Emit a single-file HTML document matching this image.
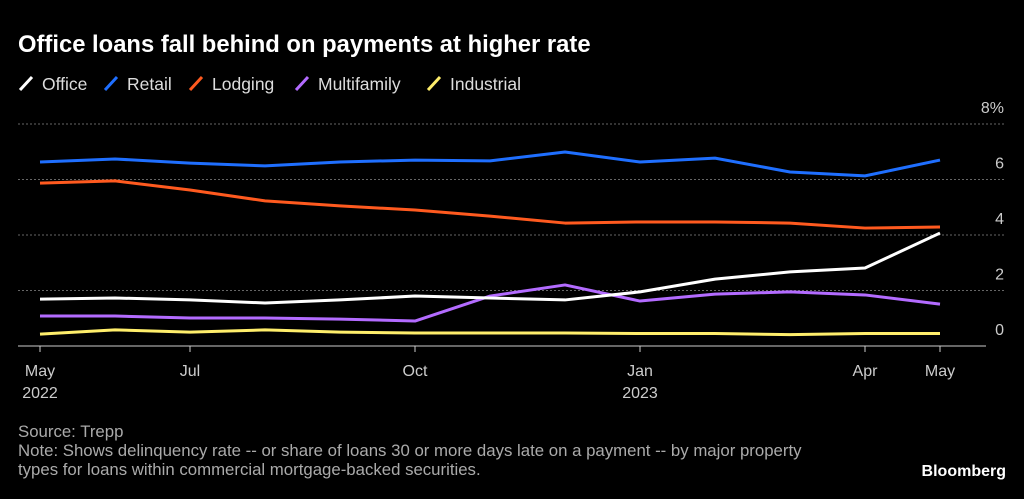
<!DOCTYPE html>
<html><head><meta charset="utf-8"><style>
body{margin:0;background:#000;width:1024px;height:494px;overflow:hidden;font-family:"Liberation Sans",sans-serif;color:#fff}
</style></head><body>
<svg width="1024" height="494" id="svg">
<text x="18" y="52" font-size="23.8" font-weight="bold" fill="#fff">Office loans fall behind on payments at higher rate</text>
<g id="legend"></g>
<g id="grid"></g>
<g id="series"></g>
<g id="xaxis"></g>
<text x="18" y="437" font-size="16.8" fill="#aaa">Source: Trepp</text>
<text x="18" y="456" font-size="16.8" fill="#aaa">Note: Shows delinquency rate -- or share of loans 30 or more days late on a payment -- by major property</text>
<text x="18" y="475" font-size="16.8" fill="#aaa">types for loans within commercial mortgage-backed securities.</text>
<text x="1006" y="476" font-size="16" font-weight="bold" fill="#fff" text-anchor="end">Bloomberg</text>
</svg>
<script>
const seriesNames=["Office","Retail","Lodging","Multifamily","Industrial"];
const seriesColors=["#ffffff","#1f6fff","#ff5a1f","#b36bff","#ffee6b"];
const office=[1.69,1.73,1.66,1.55,1.66,1.80,1.73,1.66,1.95,2.41,2.67,2.81,4.07];
const retail=[6.63,6.74,6.59,6.49,6.63,6.70,6.67,6.99,6.63,6.77,6.27,6.13,6.70];
const lodging=[5.87,5.95,5.62,5.23,5.05,4.90,4.68,4.43,4.47,4.47,4.43,4.25,4.29];
const multifamily=[1.08,1.08,1.01,1.01,0.97,0.90,1.80,2.20,1.62,1.87,1.95,1.84,1.51];
const industrial=[0.43,0.58,0.50,0.58,0.50,0.47,0.47,0.47,0.45,0.45,0.41,0.45,0.45];
const yTicks=[0,2,4,6,8];
const yTickLabels=["0","2","4","6","8%"];
const xTickIdx=[0,2,5,8,11,12];
const xTickLabels=[["May","2022"],["Jul"],["Oct"],["Jan","2023"],["Apr"],["May"]];
const NS="http://www.w3.org/2000/svg";
const x=i=>40+i*75;
const y=v=>346-v*27.75;
function mk(tag,attrs,parent){const e=document.createElementNS(NS,tag);for(const k in attrs)e.setAttribute(k,attrs[k]);parent.appendChild(e);return e;}
const grid=document.getElementById('grid');
yTicks.forEach((t,i)=>{
 if(t>0){const l=mk('line',{x1:18,x2:1006,y1:y(t),y2:y(t),stroke:'#666','stroke-dasharray':'2,2'},grid);
 
 }
 const tx=mk('text',{x:1004,y:y(t)-11,'font-size':16,fill:'#ccc','text-anchor':'end'},grid);
 tx.textContent=yTickLabels[i];
 
 
});
const xa=document.getElementById('xaxis');
const al=mk('line',{x1:18,x2:986,y1:346,y2:346,stroke:'#ccc'},xa);


xTickIdx.forEach((idx,i)=>{
 const tk=mk('line',{x1:x(idx),x2:x(idx),y1:346,y2:352,stroke:'#ccc'},xa);
 
 
 xTickLabels[i].forEach((s,j)=>{
  const t=mk('text',{x:x(idx),y:376+j*22,'font-size':16,fill:'#ccc','text-anchor':'middle'},xa);
  t.textContent=s;
  
  
 });
});
const data=[office,retail,lodging,multifamily,industrial];
const sg=document.getElementById('series');
[4,3,2,1,0].forEach(k=>{
 const p=mk('polyline',{points:data[k].map((v,i)=>x(i)+','+y(v)).join(' '),fill:'none',stroke:seriesColors[k],'stroke-width':3,'stroke-linejoin':'round'},sg);
 
 
});
const lg=document.getElementById('legend');
const lx=[20,105,190,296,428];
seriesNames.forEach((n,i)=>{
 const m=mk('line',{x1:lx[i],y1:90,x2:lx[i]+12,y2:77,stroke:seriesColors[i],'stroke-width':3},lg);
 
 
 const t=mk('text',{x:lx[i]+22,y:90,'font-size':17.5,fill:'#ddd'},lg);
 t.textContent=n;
 
 
});
</script>
</body></html>
